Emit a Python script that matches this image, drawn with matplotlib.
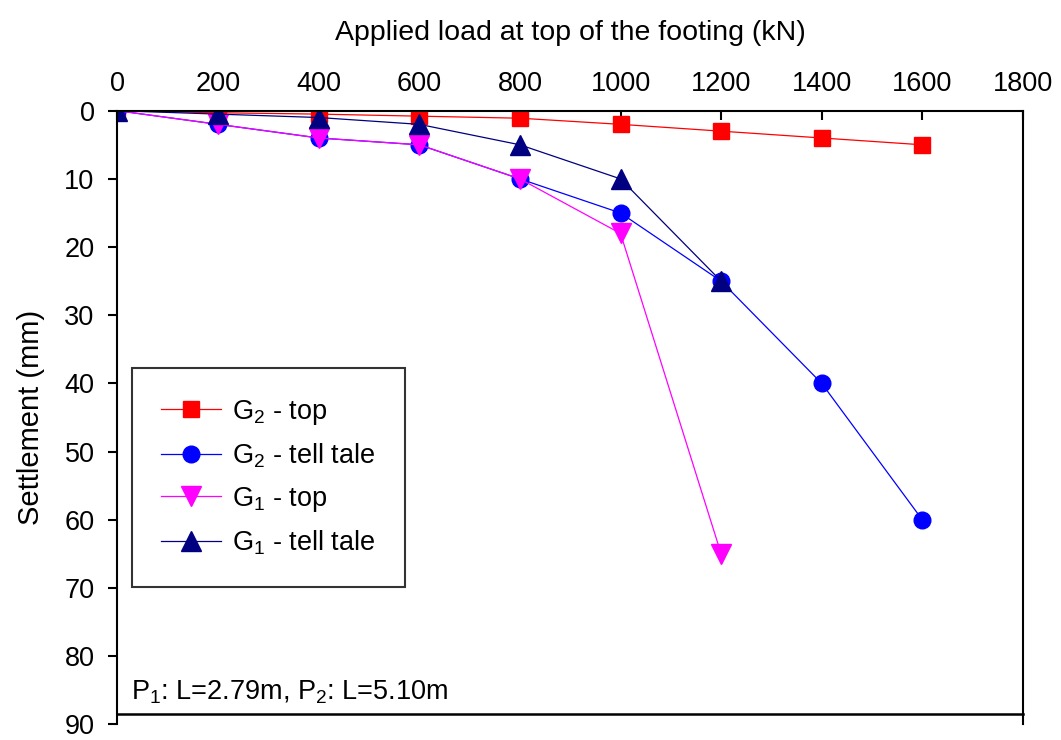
import matplotlib
matplotlib.use("Agg")
import matplotlib.pyplot as plt

plt.rcParams['font.family'] = ['Liberation Sans', 'DejaVu Sans']
plt.rcParams['mathtext.fontset'] = 'custom'
plt.rcParams['mathtext.rm'] = 'Liberation Sans'

# ---- data ----
load = [0, 200, 400, 600, 800, 1000, 1200, 1400, 1600]
g2_top = [0, 0.3, 0.5, 0.8, 1.1, 2, 3, 4, 5]
g2_tell = [0, 2, 4, 5, 10, 15, 25, 40, 60]
load_g1 = [0, 200, 400, 600, 800, 1000, 1200]
g1_top = [0, 2, 4, 5, 10, 18, 65]
g1_tell = [0, 0.5, 1, 2, 5, 10, 25]

x_ticks = [0, 200, 400, 600, 800, 1000, 1200, 1400, 1600, 1800]
y_ticks = [0, 10, 20, 30, 40, 50, 60, 70, 80, 90]

fig = plt.figure(figsize=(10.61, 7.40), dpi=100)
ax = fig.add_axes([0.1107, 0.021, 0.8535, 0.8294])

ax.plot(load, g2_top, color='#FF0000', lw=0.9, marker='s', ms=11,
        label=r'$\mathregular{G_2}$ - top')
ax.plot(load, g2_tell, color='#0000FF', lw=0.9, marker='o', ms=12,
        label=r'$\mathregular{G_2}$ - tell tale')
ax.plot(load_g1, g1_top, color='#FF00FF', lw=0.9, marker='v', ms=14,
        label=r'$\mathregular{G_1}$ - top')
ax.plot(load_g1, g1_tell, color='#000080', lw=0.9, marker='^', ms=14,
        label=r'$\mathregular{G_1}$ - tell tale')

ax.set_xlim(0, 1800)
ax.set_ylim(90, 0)
ax.set_xticks(x_ticks)
ax.set_yticks(y_ticks)

ax.xaxis.tick_top()
ax.xaxis.set_label_position('top')
ax.tick_params(axis='x', direction='in', length=6.5, width=1.5, labelsize=19.5, pad=10)
ax.tick_params(axis='y', direction='out', length=6.5, width=1.5, labelsize=19.5, pad=10)

ax.set_xlabel('Applied load at top of the footing (kN)', fontsize=20.5, labelpad=22)
ax.set_ylabel('Settlement (mm)', fontsize=21, labelpad=14)

for side in ['left', 'right', 'top']:
    ax.spines[side].set_linewidth(1.5)
ax.spines['bottom'].set_visible(False)
# plot-area border sits a little above the 90 mm tick
ax.plot([0, 1800], [88.5, 88.5], color='black', lw=1.8, clip_on=False)

ax.text(26, 86.3, r'$\mathregular{P_1}$: L=2.79m, $\mathregular{P_2}$: L=5.10m',
        fontsize=19.5, ha='left', va='baseline')

leg = ax.legend(loc='upper left', bbox_to_anchor=(0.0157, 0.581), borderaxespad=0,
                fontsize=19.5, frameon=True, fancybox=False, edgecolor='black',
                handlelength=2.2, handletextpad=0.4, labelspacing=0.55,
                borderpad=1.1)
leg.get_frame().set_linewidth(1.5)

fig.savefig('out.png', dpi=100)
